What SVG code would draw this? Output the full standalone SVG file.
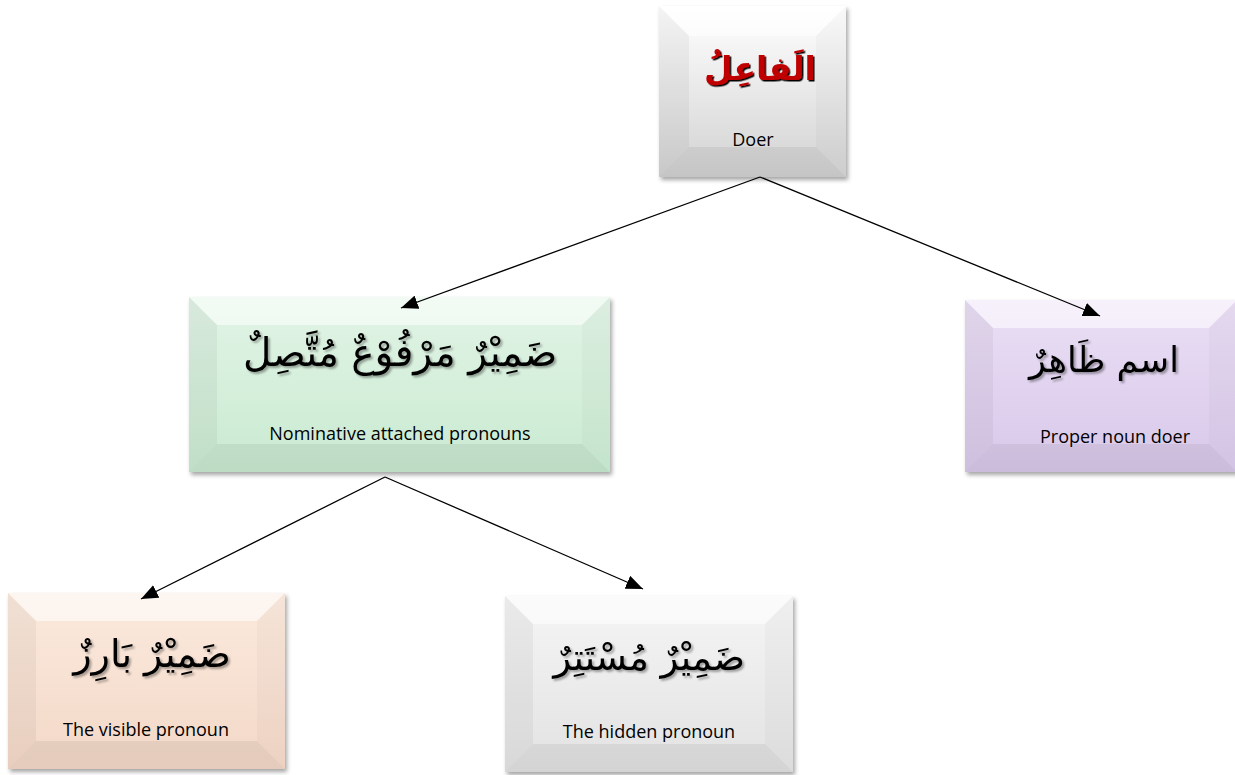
<svg xmlns="http://www.w3.org/2000/svg" width="1235" height="775" viewBox="0 0 1235 775">
<style>
.en{font-family:"Open Sans","Liberation Sans",sans-serif;font-size:18px;fill:#000;text-anchor:middle}
.ar{font-family:"DejaVu Sans","Noto Sans",sans-serif;fill:#000;text-anchor:middle;direction:rtl}
.conn{stroke:#000;stroke-width:1.3;fill:none}
.ft{fill:#fff;fill-opacity:.55}
.fl{fill:#000;fill-opacity:.045}
.fr{fill:#000;fill-opacity:.025}
.fb{fill:#000;fill-opacity:.06}
</style>
<defs>
<filter id="box" x="-10%" y="-10%" width="125%" height="130%"><feDropShadow dx="2" dy="3" stdDeviation="2" flood-color="#000" flood-opacity=".35"/></filter>
<filter id="ts" x="-10%" y="-20%" width="125%" height="150%"><feDropShadow dx="2" dy="2" stdDeviation="1" flood-color="#000" flood-opacity=".35"/></filter>
<filter id="tr" x="-10%" y="-20%" width="125%" height="150%"><feDropShadow dx="1.5" dy="1.5" stdDeviation=".3" flood-color="#000" flood-opacity="1"/></filter>
<linearGradient id="gTop" x1="0" y1="0" x2="0" y2="1"><stop offset="0" stop-color="#ffffff"/><stop offset="1" stop-color="#d2d2d2"/></linearGradient>
<linearGradient id="gGreen" x1="0" y1="0" x2="0" y2="1"><stop offset="0" stop-color="#e2f4e6"/><stop offset="1" stop-color="#c9ead1"/></linearGradient>
<linearGradient id="gPurple" x1="0" y1="0" x2="0" y2="1"><stop offset="0" stop-color="#eadff5"/><stop offset="1" stop-color="#d9c8ea"/></linearGradient>
<linearGradient id="gPeach" x1="0" y1="0" x2="0" y2="1"><stop offset="0" stop-color="#fbeade"/><stop offset="1" stop-color="#f3d8c7"/></linearGradient>
<linearGradient id="gGray" x1="0" y1="0" x2="0" y2="1"><stop offset="0" stop-color="#f5f5f5"/><stop offset="1" stop-color="#e2e2e2"/></linearGradient>
<marker id="arr" markerWidth="18" markerHeight="14" refX="17" refY="7" orient="auto" markerUnits="userSpaceOnUse"><path d="M0,0 L17,7 L0,14 Z" fill="#000"/></marker>
</defs>
<rect width="1235" height="775" fill="#fff"/>

<g id="node-doer" filter="url(#box)">
<rect x="659" y="6" width="187" height="171" fill="url(#gTop)"/>
<polygon class="ft" points="659,6 846,6 816,36 689,36"/>
<polygon class="fl" points="659,6 689,36 689,147 659,177"/>
<polygon class="fr" points="846,6 816,36 816,147 846,177"/>
<polygon class="fb" points="659,177 689,147 816,147 846,177"/>
</g>
<g id="label-doer">
<text class="ar" x="760" y="80" font-size="33" font-weight="bold" style="fill:#c00000" filter="url(#tr)">الَفاعِلُ</text>
<text class="en" x="753" y="146">Doer</text>
</g>

<g id="node-attached" filter="url(#box)">
<rect x="189" y="297" width="421" height="175" fill="url(#gGreen)"/>
<polygon class="ft" points="189,297 610,297 582,325 217,325"/>
<polygon class="fl" points="189,297 217,325 217,444 189,472"/>
<polygon class="fr" points="610,297 582,325 582,444 610,472"/>
<polygon class="fb" points="189,472 217,444 582,444 610,472"/>
</g>
<g id="label-attached">
<text class="ar" x="400" y="366" font-size="39" filter="url(#ts)">ضَمِيْرٌ مَرْفُوْعٌ مُتَّصِلٌ</text>
<text class="en" x="400" y="440">Nominative attached pronouns</text>
</g>

<g id="node-proper" filter="url(#box)">
<rect x="965" y="300" width="272" height="172" fill="url(#gPurple)"/>
<polygon class="ft" points="965,300 1237,300 1209,328 993,328"/>
<polygon class="fl" points="965,300 993,328 993,444 965,472"/>
<polygon class="fr" points="1237,300 1209,328 1209,444 1237,472"/>
<polygon class="fb" points="965,472 993,444 1209,444 1237,472"/>
</g>
<g id="label-proper">
<text class="ar" x="1104" y="372" font-size="35" filter="url(#ts)">اسم ظَاهِرٌ</text>
<text class="en" x="1115" y="443">Proper noun doer</text>
</g>

<g id="node-visible" filter="url(#box)">
<rect x="8" y="593" width="277" height="176" fill="url(#gPeach)"/>
<polygon class="ft" points="8,593 285,593 257,621 36,621"/>
<polygon class="fl" points="8,593 36,621 36,741 8,769"/>
<polygon class="fr" points="285,593 257,621 257,741 285,769"/>
<polygon class="fb" points="8,769 36,741 257,741 285,769"/>
</g>
<g id="label-visible">
<text class="ar" x="152" y="667" font-size="38" filter="url(#ts)">ضَمِيْرٌ بَارِزٌ</text>
<text class="en" x="146" y="736">The visible pronoun</text>
</g>

<g id="node-hidden" filter="url(#box)">
<rect x="505" y="596" width="288" height="176" fill="url(#gGray)"/>
<polygon class="ft" points="505,596 793,596 765,624 533,624"/>
<polygon class="fl" points="505,596 533,624 533,744 505,772"/>
<polygon class="fr" points="793,596 765,624 765,744 793,772"/>
<polygon class="fb" points="505,772 533,744 765,744 793,772"/>
</g>
<g id="label-hidden">
<text class="ar" x="649" y="670" font-size="37" filter="url(#ts)">ضَمِيْرٌ مُسْتَتِرٌ</text>
<text class="en" x="649" y="738">The hidden pronoun</text>
</g>

<g id="connectors">
<line class="conn" x1="760" y1="177" x2="401" y2="308" marker-end="url(#arr)"/>
<line class="conn" x1="760" y1="177" x2="1100" y2="316" marker-end="url(#arr)"/>
<line class="conn" x1="385" y1="477" x2="141" y2="599" marker-end="url(#arr)"/>
<line class="conn" x1="385" y1="477" x2="643" y2="589" marker-end="url(#arr)"/>
</g>
</svg>
